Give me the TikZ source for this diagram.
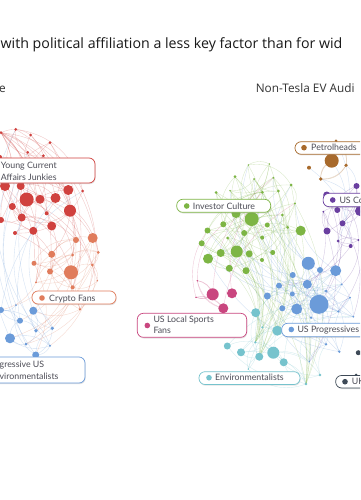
\documentclass[tikz,border=0pt]{standalone}
\usepackage{fontspec}
\setmainfont{Lato}
\newfontfamily\headfont{Open Sans}
\usetikzlibrary{shadows}
\definecolor{ycaj}{HTML}{D0413E}
\definecolor{crypto}{HTML}{E07C5C}
\definecolor{penv}{HTML}{6B9BD9}
\definecolor{petrol}{HTML}{A86A2C}
\definecolor{uscon}{HTML}{6A3FA0}
\definecolor{invest}{HTML}{7DB544}
\definecolor{sports}{HTML}{C9467F}
\definecolor{uprog}{HTML}{6B9BD9}
\definecolor{envir}{HTML}{76C3CD}
\definecolor{ukc}{HTML}{3E4A57}
\definecolor{tagtxt}{HTML}{4D4D57}
\tikzset{
  web/.style={line width=0.35pt, draw opacity=0.3},
  tag/.style={draw, line width=0.7pt, rounded corners=6pt, fill=white, inner sep=0pt,
    drop shadow={shadow xshift=0.6pt, shadow yshift=-1.2pt, opacity=0.22}},
  tagtext/.style={anchor=base west, inner sep=0pt, text=tagtxt, font=\fontsize{8.8}{10}\selectfont},
  tagdot/.style={circle, inner sep=0pt, minimum size=5.6pt},
  heading/.style={anchor=base west, inner sep=0pt},
}
\def\redpts{15.7/129.3/1.5, 30.7/135/1.5, 50/142.7/1.5, 27.7/152.3/1.5, 43.3/155.7/1.5,
  1/132.7/1.5, 0/157/2, 82.7/191/1.5, 68.3/190/5, 5/186/5, 20.7/186/4, 26.7/199.5/7,
  40/199.3/4.5, 55.5/198/5, 12.3/206.5/3.5, 70/210.7/6, 21.7/217.5/4, 46.7/213.3/2,
  51.7/226/4.5, 33.3/230.8/4, 15/233/2, 1/220/3}
\def\cryptopts{76/240/3, 92.7/238/5, 51.7/254.3/3.5, 72.7/255/1.5, 98.3/252.3/1.5,
  34/263.3/2.5, 50/271.5/3, 71/272.3/7, 92.3/265/1.5, 36/282.3/1, 72.7/287.3/2,
  97.3/280.7/0.8, 80/309.3/1.2}
\def\penvpts{33.3/310.7/4, 1/310/3, 16/305/1, 20/320.7/3, 36/330.7/1.8, 52.3/328.3/1.8,
  10/338.3/5, 26/344/1.5, 50/345.7/1.2, 35.7/355/3.5}
\def\petrolpts{331.7/160.7/7, 309/167.7/2, 346/165.3/1.8, 320.7/179/1.8, 336/140.7/1.3}
\def\usconpts{356.5/186/3, 326.7/195/3.5, 337.3/210/3, 360/211/5, 342.5/223.3/3,
  327/231/3.5, 338/241/1.5, 350.7/246/2, 358.3/240/1, 323.3/211.7/1}
\def\investpts{248.3/165/0.8, 269.3/164/0.8, 235/176.7/1.5, 254/179/1, 273.3/177.7/1,
  216/192.5/1.5, 230/190.7/0.8, 262.3/192.3/1.5, 278.3/191/1.5, 291/185/1.5, 295/203.3/1,
  236/213.5/4.5, 251.7/219/7, 223.3/224.3/3, 267.3/225/2.5, 282.3/215/1.5, 207.5/230.5/3,
  244.2/233/3, 287.7/227.3/1.5, 300.7/230.7/5, 227.7/238/1.5, 262.2/237.7/2, 201.7/243.3/3,
  220.7/253/4, 236.7/251.5/6, 249.2/253.8/3.5, 272.7/252.5/2.5, 208/258.7/5,
  229.3/268.3/3.5, 246/270.7/3.5, 262/260/2}
\def\sportspts{212.7/294.3/6, 232/293.3/5, 223.3/308.3/5, 197.3/280.7/0.8, 196/297.3/0.8}
\def\envirpts{255.7/312.7/4.5, 277.3/330.7/5, 227.3/346/3.5, 241/352.3/4, 259.3/356.7/4,
  273.3/352.7/6, 283.7/362.3/4, 255.3/342.3/1.2, 262.3/327.3/1.2, 248.3/369/0.8,
  306/384/1.3, 320/375/1.3}
\def\uprogpts{308.3/263.3/6.5, 320/270/3, 335.7/270.7/5.5, 292.7/275/3, 307.3/284.3/4.5,
  279/285.7/3, 292.3/294/2.5, 326/291/1.5, 341.7/284.3/1, 267.3/296/3.5, 319/304.3/9.5,
  296.7/309/5.5, 282.3/308.3/3, 338.3/311.5/1.2, 311/317.7/1.3, 350/297.7/1,
  353.3/316.7/1, 326/344.3/1.3, 339.3/351.7/1.3, 309.3/361.7/0.8}
\def\ukpts{358.3/352.7/2.5, 356/375/1.5}
\newcommand\placeall[2]{\foreach \x/\y/\r [count=\i] in #2 {\coordinate (#1\i) at (\x,\y);}}
\newcommand\dotsof[3]{\foreach \x/\y/\r [count=\i] in #2 {\fill[#3] (#1\i) circle (\r pt);}}
\newcommand\webof[4]{\foreach \i in {1,...,#2}{
    \pgfmathtruncatemacro\j{mod(#4*\i+2,#2)+1}
    \pgfmathtruncatemacro\k{mod((#4+6)*\i+5,#2)+1}
    \ifnum\i=\j\else\draw[web,#3] (#1\i) to[bend left=35] (#1\j);\fi
    \ifnum\i=\k\else\draw[web,#3] (#1\i) to[bend right=30] (#1\k);\fi}}
\newcommand\crossweb[5]{\foreach \i in {1,...,#2}{
    \pgfmathtruncatemacro\j{mod(3*\i+1,#4)+1}
    \draw[web,#5] (#1\i) to[bend left=25] (#3\j);}}
\begin{document}
\begin{tikzpicture}[x=1pt, y=-1pt]
\path[use as bounding box, fill=white] (0,0) rectangle (360,500);
\clip (0,0) rectangle (360,500);

\node[heading, font=\headfont\fontsize{14.2}{16}\selectfont, text=black!90] (title) at (0.5,48.5)
  {with political affiliation a less key factor than for wid};
\node[heading, font=\headfont\fontsize{11.8}{14}\selectfont, text=black!80, anchor=base east] (lefthead) at (6,93) {e};
\node[heading, font=\headfont\fontsize{11.8}{14}\selectfont, text=black!80] (righthead) at (255.6,93) {Non-Tesla EV Audi};

\placeall{r}{\redpts} \placeall{c}{\cryptopts} \placeall{p}{\penvpts}
\placeall{pe}{\petrolpts} \placeall{uc}{\usconpts} \placeall{ic}{\investpts}
\placeall{ls}{\sportspts} \placeall{en}{\envirpts} \placeall{up}{\uprogpts}
\placeall{uk}{\ukpts}

\webof{r}{22}{ycaj}{5} \webof{c}{13}{crypto}{4} \webof{p}{10}{penv}{3}
\webof{pe}{5}{petrol}{2} \webof{uc}{10}{uscon}{3} \webof{ic}{31}{invest}{7}
\webof{ls}{5}{sports}{2} \webof{en}{12}{envir}{5} \webof{up}{20}{uprog}{7}
\crossweb{r}{22}{c}{13}{ycaj} \crossweb{p}{10}{r}{22}{penv} \crossweb{c}{13}{p}{10}{crypto}
\crossweb{up}{20}{ic}{31}{uprog} \crossweb{uc}{10}{up}{20}{uscon} \crossweb{en}{12}{up}{20}{envir}
\crossweb{ls}{5}{ic}{31}{sports} \crossweb{pe}{5}{uc}{10}{uprog} \crossweb{ic}{31}{en}{12}{invest}

\dotsof{r}{\redpts}{ycaj} \dotsof{c}{\cryptopts}{crypto} \dotsof{p}{\penvpts}{penv}
\dotsof{pe}{\petrolpts}{petrol} \dotsof{uc}{\usconpts}{uscon} \dotsof{ic}{\investpts}{invest}
\dotsof{ls}{\sportspts}{sports} \dotsof{en}{\envirpts}{envir} \dotsof{up}{\uprogpts}{uprog}
\dotsof{uk}{\ukpts}{ukc}

\node[tag, draw=ycaj, minimum width=125pt, minimum height=25pt] (ycajbox) at (32.5,170.5) {};
\node[tagtext] (ycajl1) at (0.7,168.5) {Young Current};
\node[tagtext] (ycajl2) at (0.7,180) {Affairs Junkies};

\node[tag, draw=crypto, minimum width=84pt, minimum height=13pt] (cryptobox) at (74,297.5) {};
\node[tagdot, fill=crypto] (cryptodot) at (42,298) {};
\node[tagtext] (cryptotxt) at (49,301) {Crypto Fans};

\node[tag, draw=penv, minimum width=115pt, minimum height=26pt] (penvbox) at (27.5,370) {};
\node[tagtext] (penvl1) at (-0.5,367.7) {gressive US};
\node[tagtext] (penvl2) at (-0.5,379) {vironmentalists};

\node[tag, draw=petrol, minimum width=78pt, minimum height=12.5pt] (petrolbox) at (334,148) {};
\node[tagdot, fill=petrol] (petroldot) at (304,147.7) {};
\node[tagtext] (petroltxt) at (311,150.5) {Petrolheads};

\node[tag, draw=invest, minimum width=94pt, minimum height=13pt] (investbox) at (223.7,205.8) {};
\node[tagdot, fill=invest] (investdot) at (186.7,206) {};
\node[tagtext] (investtxt) at (192.7,209) {Investor Culture};

\node[tag, draw=uscon, minimum width=97pt, minimum height=13.4pt] (usconbox) at (371.6,200) {};
\node[tagdot, fill=uscon] (usconddot) at (332.7,200) {};
\node[tagtext] (uscontxt) at (339.3,203) {US Co};

\node[tag, draw=sports, minimum width=109.4pt, minimum height=24pt] (sportsbox) at (192,325.3) {};
\node[tagdot, fill=sports] (sportsdot) at (147.3,325.5) {};
\node[tagtext] (sportsl1) at (153.3,322.7) {US Local Sports};
\node[tagtext] (sportsl2) at (153.3,333.5) {Fans};

\node[tag, draw=uprog, minimum width=94.3pt, minimum height=13.4pt] (uprogbox) at (328.8,330) {};
\node[tagdot, fill=uprog] (uprogdot) at (291.3,329.5) {};
\node[tagtext] (uprogtxt) at (297.3,332.5) {US Progressives};

\node[tag, draw=envir, minimum width=101pt, minimum height=12.8pt] (envirbox) at (249.5,378.1) {};
\node[tagdot, fill=envir] (envirdot) at (209,377.7) {};
\node[tagtext] (envirtxt) at (215,380.7) {Environmentalists};

\node[tag, draw=ukc, minimum width=64.3pt, minimum height=12.5pt] (ukbox) at (367.8,381.7) {};
\node[tagdot, fill=ukc] (ukdot) at (345,381.7) {};
\node[tagtext] (uktxt) at (351.7,384.7) {UK};
\end{tikzpicture}
\end{document}
